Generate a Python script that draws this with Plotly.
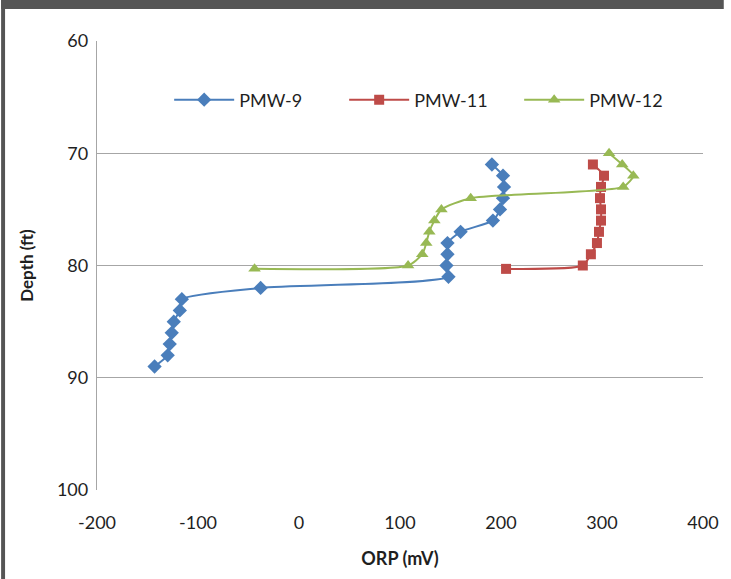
import plotly.graph_objects as go

# PMW-9
pmw9_orp = [191, 202, 203, 202, 199, 192, 160, 147, 147, 146, 148, -38, -116, -118, -124, -126, -128, -130, -143]
pmw9_depth = [71, 72, 73, 74, 75, 76, 77, 78, 79, 80, 81, 82, 83, 84, 85, 86, 87, 88, 89]

# PMW-11
pmw11_orp = [291, 302, 299, 298, 299, 299, 297, 295, 289, 281, 205]
pmw11_depth = [71, 72, 73, 74, 75, 76, 77, 78, 79, 80, 80.3]

# PMW-12
pmw12_orp = [307, 320, 331, 321, 170, 141, 134, 129, 126, 122, 108, -44]
pmw12_depth = [70, 71, 72, 73, 74, 75, 76, 77, 78, 79, 80, 80.3]

x_ticks = [-200, -100, 0, 100, 200, 300, 400]
y_ticks = [60, 70, 80, 90, 100]

FONT = "Lato"
TXT = "#1f1f1f"

fig = go.Figure()
fig.add_trace(go.Scatter(x=pmw9_orp, y=pmw9_depth, name="PMW-9", mode="lines+markers",
                         line=dict(color="#4A7EBB", width=2, shape="spline", smoothing=0.6),
                         marker=dict(symbol="diamond", size=11, color="#4A7EBB")))
fig.add_trace(go.Scatter(x=pmw11_orp, y=pmw11_depth, name="PMW-11", mode="lines+markers",
                         line=dict(color="#BE4B48", width=2, shape="spline", smoothing=0.6),
                         marker=dict(symbol="square", size=10, color="#BE4B48")))
fig.add_trace(go.Scatter(x=pmw12_orp, y=pmw12_depth, name="PMW-12", mode="lines+markers",
                         line=dict(color="#98B954", width=2, shape="spline", smoothing=0.6),
                         marker=dict(symbol="triangle-up", size=11, color="#98B954")))

# frame decoration (dark band top, strip left)
L, T, W, H = 97, 41, 613, 449
def px_x(p):
    return (p - L) / W
def px_y(p):
    return (T + H - p) / H

shapes = [
    dict(type="rect", xref="paper", yref="paper", x0=px_x(0), x1=px_x(731), y0=px_y(9), y1=px_y(0),
         fillcolor="#555555", line=dict(width=0), layer="above"),
    dict(type="rect", xref="paper", yref="paper", x0=px_x(0), x1=px_x(4), y0=px_y(579), y1=px_y(0),
         fillcolor="#555555", line=dict(width=0), layer="above"),
]

fig.update_layout(
    width=731, height=579,
    margin=dict(l=L, r=731 - L - W, t=T, b=579 - T - H),
    paper_bgcolor="white", plot_bgcolor="white",
    font=dict(family=FONT, size=18, color=TXT),
    showlegend=True,
    legend=dict(orientation="h", x=px_x(170), y=px_y(100), xanchor="left", yanchor="middle",
                font=dict(family=FONT, size=18, color=TXT),
                bgcolor="rgba(0,0,0,0)", itemwidth=60, tracegroupgap=0,
                entrywidth=100, entrywidthmode="pixels"),
    xaxis=dict(range=[-200, 400], tickvals=x_ticks, ticktext=[str(v) for v in x_ticks],
               showgrid=False, zeroline=False, showline=False, ticks="",
               ticklabelstandoff=20,
               tickfont=dict(family=FONT, size=18, color=TXT),
               title=dict(text="<b>ORP (mV)</b>", font=dict(family=FONT, size=18, color=TXT), standoff=20)),
    yaxis=dict(range=[100, 60], tickvals=y_ticks, ticktext=[str(v) for v in y_ticks],
               showgrid=True, gridcolor="#A6A6A6", gridwidth=1.3, zeroline=False,
               showline=True, linecolor="#A6A6A6", linewidth=1.3, ticks="",
               ticklabelstandoff=4,
               tickfont=dict(family=FONT, size=18, color=TXT),
               title=dict(text="<b>Depth (ft)</b>", font=dict(family=FONT, size=17, color=TXT), standoff=18)),
    shapes=shapes,
)

fig.write_html("out.html")
